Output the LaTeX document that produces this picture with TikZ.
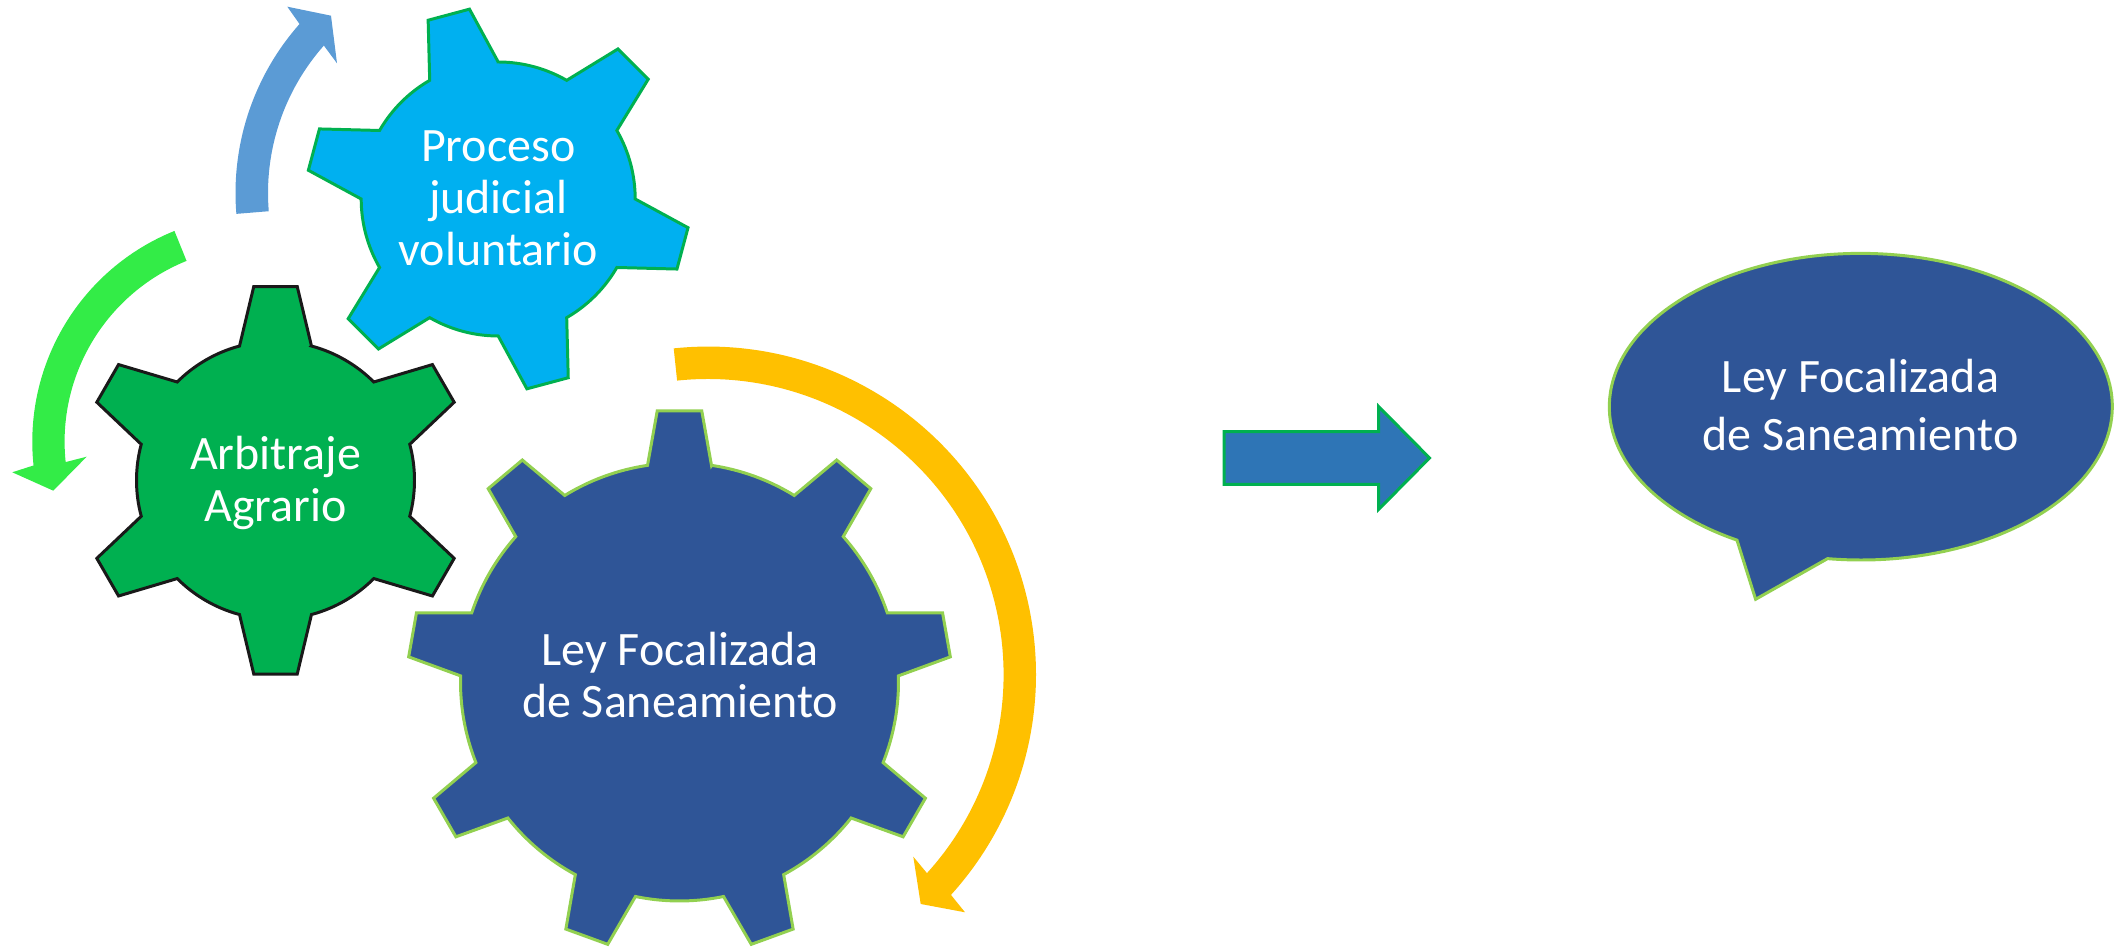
\documentclass[tikz,border=0pt]{standalone}
\usepackage{fontspec}
\setmainfont{Carlito}
% rueda dentada: centro, dientes, fase, radio exterior, radio interior, semiangulo punta, semiangulo base, estilo
\newcommand{\rueda}[8]{%
  \begin{scope}[shift={(#1)}]
    \pgfmathsetmacro{\paso}{360/#2}
    \draw[#8] (#3-#7:#5)
      \foreach \k [evaluate=\k as \t using #3+\k*\paso] in {1,...,#2} {
        -- (\t-\paso-#6:#4) -- (\t-\paso+#6:#4) -- (\t-\paso+#7:#5)
        arc[start angle=\t-\paso+#7, end angle=\t-#7, radius=#5]
      } -- cycle;
  \end{scope}}
\tikzset{
  rotulo/.style={align=center, text=white, font=\fontsize{13.65}{14.85}\selectfont},
  rotuloGlobo/.style={rotulo, font=\fontsize{13.65}{16.45}\selectfont},
  borde/.style={line width=0.85pt, line join=miter}
}
\begin{document}
\begin{tikzpicture}
        % --- COLORES ---
        \definecolor{verdeRueda}{HTML}{00B050}
        \definecolor{celesteRueda}{HTML}{00B0F0}
        \definecolor{azulRueda}{HTML}{2F5597}
        \definecolor{bordeClaro}{HTML}{92D050}
        \definecolor{flechaOro}{HTML}{FFC000}
        \definecolor{flechaVerde}{HTML}{33EC47}
        \definecolor{flechaCeleste}{HTML}{5B9BD5}
        \definecolor{flechaAzul}{HTML}{2E75B6}

        \useasboundingbox (0,0) rectangle (21.18,9.5);

        % Ruedas dentadas
        \rueda{4.982,7.51}{6}{105}{1.92}{1.37}{6.4}{15}{borde, fill=celesteRueda, draw=verdeRueda}
        \rueda{2.755,4.697}{6}{90}{1.95}{1.39}{6.4}{15}{borde, fill=verdeRueda, draw=black!90}
        \rueda{6.795,2.68}{9}{90}{2.72}{2.19}{4.7}{8.4}{borde, fill=azulRueda, draw=bordeClaro}

        \node[rotulo] (proceso) at (4.982,7.52) {Proceso\\judicial\\voluntario};
        \node[rotulo] (arbitraje) at (2.755,4.673) {Arbitraje\\Agrario};
        \node[rotulo] (ley) at (6.80,2.753) {Ley Focalizada\\de Saneamiento};

        % Flechas curvas
        \coordinate (centroCeleste) at (4.905,7.57);
        \fill[flechaCeleste] ([shift={(centroCeleste)}]184.7:2.55)
            arc[start angle=184.7, end angle=138.5, radius=2.55]
            -- (2.873,9.433) -- (3.31,9.343) -- (3.37,8.867)
            -- ([shift={(centroCeleste)}]138.5:2.225)
            arc[start angle=138.5, end angle=184.7, radius=2.225] -- cycle;

        \coordinate (centroVerde) at (2.596,5.083);
        \fill[flechaVerde] ([shift={(centroVerde)}]112:2.273)
            arc[start angle=112, end angle=186, radius=2.273]
            -- (0.123,4.777) -- (0.533,4.593) -- (0.867,4.933)
            -- ([shift={(centroVerde)}]186:1.95)
            arc[start angle=186, end angle=112, radius=1.95] -- cycle;

        \coordinate (centroOro) at (7.08,2.754);
        \fill[flechaOro] ([shift={(centroOro)}]96:3.28)
            arc[start angle=96, end angle=-42.2, radius=3.28]
            -- (9.65,0.377) -- (9.207,0.46) -- (9.133,0.933)
            -- ([shift={(centroOro)}]-42.2:2.956)
            arc[start angle=-42.2, end angle=96, radius=2.956] -- cycle;

        % Flecha central
        \draw[borde, fill=flechaAzul, draw=verdeRueda] (12.24,5.183) -- (13.786,5.183) -- (13.786,5.435)
            -- (14.295,4.92) -- (13.786,4.405) -- (13.786,4.657) -- (12.24,4.657) -- cycle;

        % Globo de texto
        \coordinate (centroGlobo) at (18.608,5.433);
        \draw[borde, fill=azulRueda, draw=bordeClaro] ([shift={(centroGlobo)}]262.4:2.515 and 1.533)
            arc[start angle=262.4, end angle=600.5, x radius=2.515, y radius=1.533]
            -- (17.556,3.507) -- cycle;
        \node[rotuloGlobo] (globo) at (18.605,5.45) {Ley Focalizada\\de Saneamiento};
\end{tikzpicture}
\end{document}
